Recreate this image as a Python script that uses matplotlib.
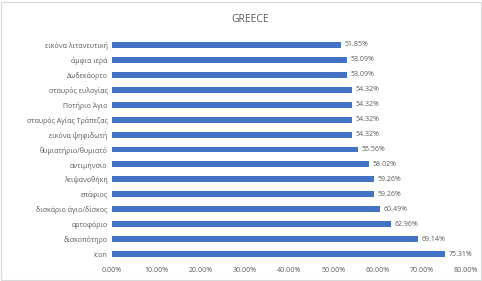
import matplotlib.pyplot as plt
from matplotlib.patches import Rectangle

labels = ['εικόνα λιτανευτική', 'άμφια ιερά', 'Δωδεκάορτο', 'σταυρός ευλογίας',
          'Ποτήριο Άγιο', 'σταυρός Αγίας Τράπεζας', 'εικόνα ψηφιδωτή',
          'θυμιατήριο/θυμιατό', 'αντιμήνσιο', 'λειψανοθήκη', 'επάφιος',
          'δισκάριο άγιο/δίσκος', 'αρτοφόριο', 'δισκοπότηρο', 'icon']
values = [51.85, 53.09, 53.09, 54.32, 54.32, 54.32, 54.32,
          55.56, 58.02, 59.26, 59.26, 60.49, 62.96, 69.14, 75.31]
xticks = [0, 10, 20, 30, 40, 50, 60, 70, 80]

grey = '#595959'
plt.rcParams['font.family'] = ['Open Sans', 'DejaVu Sans']

fig = plt.figure(figsize=(4.82, 2.81), dpi=100)
ax = fig.add_axes([0.232, 0.069, 0.735, 0.798])

# bars from top to bottom
ypos = list(range(len(labels)))[::-1]
ax.barh(ypos, values, height=0.4, color='#4472C4')
for y, v in zip(ypos, values):
    ax.text(v + 0.8, y, f'{v:.2f}%', va='center', ha='left', fontsize=5, color=grey)

ax.set_yticks(ypos)
ax.set_yticklabels(labels, fontsize=5, color=grey)
ax.set_xticks(xticks)
ax.set_xticklabels([f'{t:.2f}%' for t in xticks], fontsize=5, color=grey)
ax.set_xlim(0, 80)
ax.set_ylim(-0.5, len(labels) - 0.5)
ax.tick_params(length=0, pad=3)
ax.tick_params(axis='x', pad=4)
for s in ax.spines.values():
    s.set_visible(False)

fig.text(0.52, 0.932, 'GREECE', ha='center', va='center', fontsize=7.5, color=grey)
fig.patches.append(Rectangle((0.002, 0.004), 0.995, 0.99, transform=fig.transFigure,
                             fill=False, edgecolor='#d9d9d9', lw=0.8))

fig.savefig('out.png', dpi=100)
